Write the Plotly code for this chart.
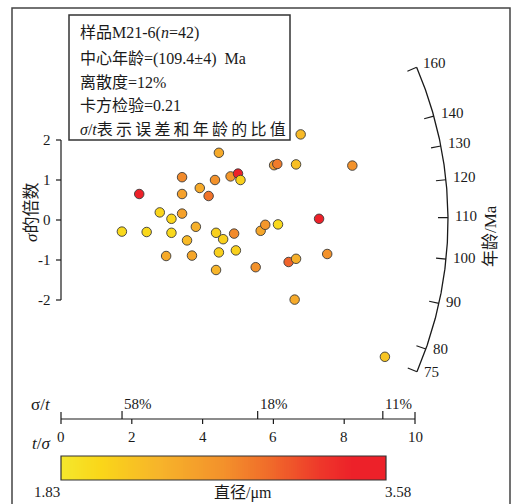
import numpy as np
import plotly.graph_objects as go

# ---------------- data ----------------
T_OVER_SIGMA = [1.72, 2.21, 2.42, 2.79, 2.97, 3.12, 3.12, 3.42, 3.42, 3.42,
                3.56, 3.70, 3.81, 3.92, 4.17, 4.35, 4.38, 4.38, 4.46, 4.46,
                4.58, 4.79, 4.89, 4.94, 5.00, 5.07, 5.50, 5.64, 5.77, 6.13,
                6.02, 6.11, 6.64, 6.77, 8.23, 7.29, 6.43, 6.64, 7.52, 6.60,
                9.15]
STD_EST = [-0.29, 0.65, -0.30, 0.19, -0.90, 0.03, -0.32, 1.07, 0.65, 0.16,
           -0.51, -0.89, -0.17, 0.80, 0.60, 1.00, -0.32, -1.25, 1.68, -0.81,
           -0.48, 1.09, -0.34, -0.76, 1.16, 1.00, -1.18, -0.27, -0.12, -0.11,
           1.37, 1.40, 1.39, 2.14, 1.36, 0.03, -1.05, -0.97, -0.85, -1.99,
           -3.42]
DIAMETER = [2.00, 3.45, 2.02, 2.05, 2.45, 2.05, 2.00, 2.75, 2.55, 2.55,
            2.30, 2.50, 2.40, 2.45, 2.90, 2.70, 2.10, 2.35, 2.45, 2.10,
            2.10, 2.65, 2.75, 2.10, 3.50, 2.10, 2.70, 2.50, 2.65, 2.00,
            2.60, 2.85, 2.25, 2.30, 2.70, 3.55, 3.00, 2.40, 2.70, 2.45,
            2.20]
D_MIN, D_MAX = 1.83, 3.58
CENTRAL_AGE = 109.4
ARC_AGES = [75, 80, 90, 100, 110, 120, 130, 140, 160]
Y_TICKS = [-2, -1, 0, 1, 2]
X_TICKS = [0, 2, 4, 6, 8, 10]
SIGMA_T_TICKS = [58, 18, 11]   # percent
INFO_LINES = ["样品M21-6(<i>n</i>=42)",
              "中心年龄=(109.4±4)  Ma",
              "离散度=12%",
              "卡方检验=0.21",
              "<i>σ</i>/<i>t</i>表\u2009示\u2009误\u2009差\u2009和\u2009年\u2009龄\u2009的\u2009比\u2009值"]

# ---------------- layout geometry ----------------
W, H = 516, 504
OX, OY = 61, 220        # pixel position of data origin
KX, KY = 35.4, 40.0     # pixels per data unit
R_ARC = 387             # arc radius in px

def dx(px):
    return (px - OX) / KX

def dy(py):
    return (OY - py) / KY

SERIF = "Liberation Serif, Noto Sans CJK SC"
BLACK = "#1a1a1a"

COLORSCALE = [[0, "#F4E72C"], [0.12, "#FAD619"], [0.3, "#F7B42A"],
              [0.5, "#F3912B"], [0.65, "#F0692A"], [0.8, "#EE372A"],
              [0.9, "#ED2129"], [1, "#ED2129"]]

fig = go.Figure()

# colour bar drawn as a gradient strip on the same axes
CB_X0, CB_X1, CB_Y0, CB_Y1 = 61, 386, 456, 480   # px
n_cells = 160
grad = np.linspace(D_MIN, D_MAX, n_cells)
cell_w = (dx(CB_X1) - dx(CB_X0)) / n_cells
row_h = (dy(CB_Y0) - dy(CB_Y1)) / 2
fig.add_trace(go.Heatmap(
    z=[grad, grad], x0=dx(CB_X0) + cell_w / 2, dx=cell_w,
    y=[dy(CB_Y1) + row_h / 2, dy(CB_Y0) - row_h / 2],
    zmin=D_MIN, zmax=D_MAX, colorscale=COLORSCALE, showscale=False,
    hoverinfo="skip"))

# arc
def arc_xy(age, r_px):
    s = np.log(np.asarray(age, dtype=float) / CENTRAL_AGE)
    norm = np.sqrt(KX ** 2 + (KY * s) ** 2)
    x = r_px / norm
    return x, s * x

ages_curve = np.geomspace(min(ARC_AGES), max(ARC_AGES), 300)
ax_, ay_ = arc_xy(ages_curve, R_ARC)
fig.add_trace(go.Scatter(x=ax_, y=ay_, mode="lines",
                         line=dict(color=BLACK, width=1.3),
                         hoverinfo="skip", showlegend=False))

# data points
fig.add_trace(go.Scatter(
    x=T_OVER_SIGMA, y=STD_EST, mode="markers", showlegend=False,
    marker=dict(size=9.5, color=DIAMETER, cmin=D_MIN, cmax=D_MAX,
                colorscale=COLORSCALE,
                line=dict(color="#3a3a3a", width=0.9),
                showscale=False)))

shapes = []
ann = []

def line(x0, y0, x1, y1, w=1.2, c=BLACK):
    shapes.append(dict(type="line", xref="x", yref="y", x0=x0, y0=y0,
                       x1=x1, y1=y1, line=dict(color=c, width=w)))

def text(x, y, t, size=15, xa="center", ya="middle", angle=0, yshift=0):
    ann.append(dict(x=x, y=y, xref="x", yref="y", text=t, showarrow=False,
                    xanchor=xa, yanchor=ya, textangle=angle, yshift=yshift,
                    font=dict(family=SERIF, size=size, color=BLACK)))

# outer frame
shapes.append(dict(type="rect", xref="x", yref="y", x0=dx(12), y0=dy(530),
                   x1=dx(510), y1=dy(8), line=dict(color="#444", width=1.5)))
# info box
shapes.append(dict(type="rect", xref="x", yref="y", x0=dx(69), y0=dy(140),
                   x1=dx(290), y1=dy(15), line=dict(color="#333", width=1.5),
                   fillcolor="white", layer="below"))
for t, py in zip(INFO_LINES, [33, 58.5, 82, 105.5, 129]):
    text(dx(78), dy(py), t, size=16, xa="left")

# colour bar outline
shapes.append(dict(type="rect", xref="x", yref="y", x0=dx(CB_X0), y0=dy(CB_Y1),
                   x1=dx(CB_X1), y1=dy(CB_Y0), line=dict(color="#333", width=1.2)))

# y axis
line(0, min(Y_TICKS), 0, max(Y_TICKS))
for v in Y_TICKS:
    line(dx(OX - 5), v, 0, v)
    text(dx(53), v, str(v), size=15, xa="right")
text(dx(31), dy(213), "<i>σ</i>的倍数", size=17, angle=-90)

# arc ticks and labels
for a in ARC_AGES:
    x0, y0 = arc_xy(a, R_ARC - 10)
    x1, y1 = arc_xy(a, R_ARC)
    line(float(x0), float(y0), float(x1), float(y1), w=1.1)
    xl, yl = arc_xy(a, R_ARC + 5)
    text(float(xl), float(yl), str(a), size=15, xa="left", yshift=2)
text(dx(490), dy(236), "年龄/Ma", size=17, angle=-90)

# precision axis
y_ax = dy(419)
line(min(X_TICKS), y_ax, max(X_TICKS), y_ax)
for v in X_TICKS:
    line(v, y_ax, v, dy(424))
    text(v, dy(437), str(v), size=15)
for v in [min(X_TICKS), max(X_TICKS)]:
    line(v, y_ax, v, dy(412))
for p in SIGMA_T_TICKS:
    xv = 100.0 / p
    line(xv, y_ax, xv, dy(411))
    text(xv, dy(404), f"{p}%", size=15, xa="left")
text(dx(41), dy(404), "σ/<i>t</i>", size=17)
text(dx(41), dy(443), "<i>t</i>/<i>σ</i>", size=17)

# colour bar labels
text(dx(47), dy(492), f"{D_MIN:.2f}", size=15)
text(dx(398), dy(492), f"{D_MAX:.2f}", size=15)
text(dx(243), dy(493), "直径/μm", size=16)

fig.update_layout(
    width=W, height=H, margin=dict(l=0, r=0, t=0, b=0),
    paper_bgcolor="white", plot_bgcolor="white",
    xaxis=dict(range=[dx(0), dx(W)], visible=False, fixedrange=True),
    yaxis=dict(range=[dy(H), dy(0)], visible=False, fixedrange=True),
    shapes=shapes, annotations=ann, showlegend=False,
)
fig.write_html("out.html", config={"displayModeBar": False},
               post_script="document.body.style.margin='0';"
                           "document.body.style.overflow='hidden';")
